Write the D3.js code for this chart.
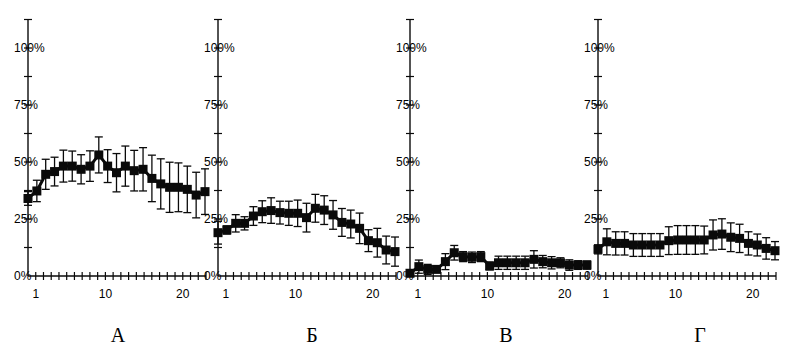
<!DOCTYPE html>
<html>
<head>
<meta charset="utf-8">
<script src="https://cdn.jsdelivr.net/npm/d3@7"></script>
<style>
  body { margin: 0; background: #fff; }
  text { font-family: "Liberation Sans", Arial, sans-serif; fill: #000; }
  .letter { font-family: "Liberation Serif", "Times New Roman", serif; font-size: 20px; }
</style>
</head>
<body>
<svg width="803" height="350"></svg>
<script>
// sessions (points along x), 21 per panel
const sessions = [1, 2, 3, 4, 5, 6, 7, 8, 9, 10, 11, 12, 13, 14, 15, 16, 17, 18, 19, 20, 21];
const panelNames = ["А", "Б", "В", "Г"];

const meanA = [34, 37.3, 44.6, 45.8, 48.2, 48.2, 46.8, 48.2, 53.1, 48.2, 45.3, 48.2, 46.2, 46.8, 42.8, 40.4, 38.9, 38.9, 38, 35.5, 37];
const errA  = [3, 4.7, 6.6, 6.3, 7, 6.6, 6.4, 6.7, 7.9, 7.2, 8.4, 8.8, 8.9, 9.5, 10.2, 11, 11, 10.7, 10.2, 10, 10];

const meanB = [19, 20.2, 23.1, 23.1, 26.3, 28.2, 28.7, 27.8, 27.5, 27.5, 25.6, 29.7, 28.9, 26.8, 23.5, 22.8, 20.9, 15.5, 14.6, 11.4, 10.7];
const errB  = [5, 1.8, 3.8, 2.9, 4.1, 4.8, 5.6, 5, 5.3, 5.8, 6.3, 6.1, 6.3, 6.3, 6.1, 6.1, 6.7, 4.8, 6.3, 6.1, 6.4];

const meanV = [1.2, 4.1, 2.9, 2.9, 6.3, 10.2, 8.5, 8.2, 8.5, 4.4, 5.8, 5.8, 5.8, 5.8, 7.3, 6.3, 5.8, 5.8, 4.8, 4.8, 4.8];
const errV  = [1, 2.9, 2.2, 1.3, 3.5, 3.2, 2.2, 2.3, 2.2, 1.7, 2.9, 2.9, 2.9, 2.9, 3.8, 2.7, 2.7, 2.2, 2.3, 1.9, 1.8];

const meanG = [11.7, 15, 14.3, 14.3, 13.6, 13.6, 13.6, 13.6, 15.5, 15.8, 15.8, 15.8, 15.8, 18, 18.4, 17, 16.5, 14.3, 13.6, 12.1, 11.1];
const errG  = [2, 5.7, 5.1, 5.1, 5, 5, 5, 5, 6.1, 6.3, 6.3, 6.3, 6.1, 6.6, 6.7, 6.3, 6.2, 5.1, 4.8, 4.7, 4];

const yTickLabels = [0, 25, 50, 75, 100];
const yMinorTicks = [12.5, 25, 37.5, 50, 62.5, 75, 87.5, 100, 112.5];
const xTickLabels = [1, 10, 20];
const xMinorTicks = d3.range(1, 24);

const panels = [
  { name: panelNames[0], mean: meanA, err: errA, left: 28 },
  { name: panelNames[1], mean: meanB, err: errB, left: 218 },
  { name: panelNames[2], mean: meanV, err: errV, left: 410 },
  { name: panelNames[3], mean: meanG, err: errG, left: 598 }
];

const svg = d3.select("svg");
const ink = "#0a0a0a";
const width = 178;

const y = d3.scaleLinear().domain([0, 100]).range([276, 48]);
const xAxisScale = d3.scaleLinear().domain([0, 23]).range([0, width]);
const xPoint = d3.scalePoint().domain(sessions).range([0, width - 1]);

const letterX = [118, 312, 506, 700];

panels.forEach((p, i) => {
  const g = svg.append("g").attr("transform", `translate(${p.left},0)`);

  // y axis line and ticks
  g.append("line")
    .attr("x1", 0).attr("x2", 0)
    .attr("y1", y(0)).attr("y2", y(112.5))
    .attr("stroke", ink).attr("stroke-width", 1.4);
  g.selectAll(".ytick")
    .data(yMinorTicks)
    .join("line")
    .attr("x1", -4).attr("x2", 4)
    .attr("y1", d => y(d)).attr("y2", d => y(d))
    .attr("stroke", ink).attr("stroke-width", 1.2);
  g.selectAll(".ylab")
    .data(yTickLabels)
    .join("text")
    .attr("x", -14)
    .attr("y", d => y(d) + 4)
    .attr("font-size", 12)
    .text(d => d + "%");

  // x axis line and ticks
  g.append("line")
    .attr("x1", 0).attr("x2", width)
    .attr("y1", y(0)).attr("y2", y(0))
    .attr("stroke", ink).attr("stroke-width", 1.4);
  g.selectAll(".xtick")
    .data(xMinorTicks)
    .join("line")
    .attr("x1", d => xAxisScale(d)).attr("x2", d => xAxisScale(d))
    .attr("y1", y(0) - 4).attr("y2", y(0) + 4)
    .attr("stroke", ink).attr("stroke-width", 1.2);
  g.selectAll(".xlab")
    .data(xTickLabels)
    .join("text")
    .attr("x", d => xAxisScale(d))
    .attr("y", y(0) + 22)
    .attr("text-anchor", "middle")
    .attr("font-size", 12)
    .text(d => d);

  const pts = sessions.map((s, k) => ({ s, v: p.mean[k], e: p.err[k] }));

  // error bars
  const eb = g.append("g").attr("stroke", ink).attr("stroke-width", 1.3);
  eb.selectAll(".ev")
    .data(pts)
    .join("line")
    .attr("x1", d => xPoint(d.s)).attr("x2", d => xPoint(d.s))
    .attr("y1", d => y(d.v + d.e)).attr("y2", d => y(d.v - d.e));
  eb.selectAll(".et")
    .data(pts)
    .join("line")
    .attr("x1", d => xPoint(d.s) - 4).attr("x2", d => xPoint(d.s) + 4)
    .attr("y1", d => y(d.v + d.e)).attr("y2", d => y(d.v + d.e));
  eb.selectAll(".eb")
    .data(pts)
    .join("line")
    .attr("x1", d => xPoint(d.s) - 4).attr("x2", d => xPoint(d.s) + 4)
    .attr("y1", d => y(d.v - d.e)).attr("y2", d => y(d.v - d.e));

  // mean line
  g.append("path")
    .datum(pts)
    .attr("fill", "none")
    .attr("stroke", ink)
    .attr("stroke-width", 3)
    .attr("d", d3.line().x(d => xPoint(d.s)).y(d => y(d.v)));

  // square markers
  g.selectAll(".mk")
    .data(pts)
    .join("rect")
    .attr("x", d => xPoint(d.s) - 4.5)
    .attr("y", d => y(d.v) - 4.5)
    .attr("width", 9).attr("height", 9)
    .attr("fill", ink);

  svg.append("text")
    .attr("class", "letter")
    .attr("x", letterX[i])
    .attr("y", 342)
    .attr("text-anchor", "middle")
    .text(p.name);
});
</script>
</body>
</html>
